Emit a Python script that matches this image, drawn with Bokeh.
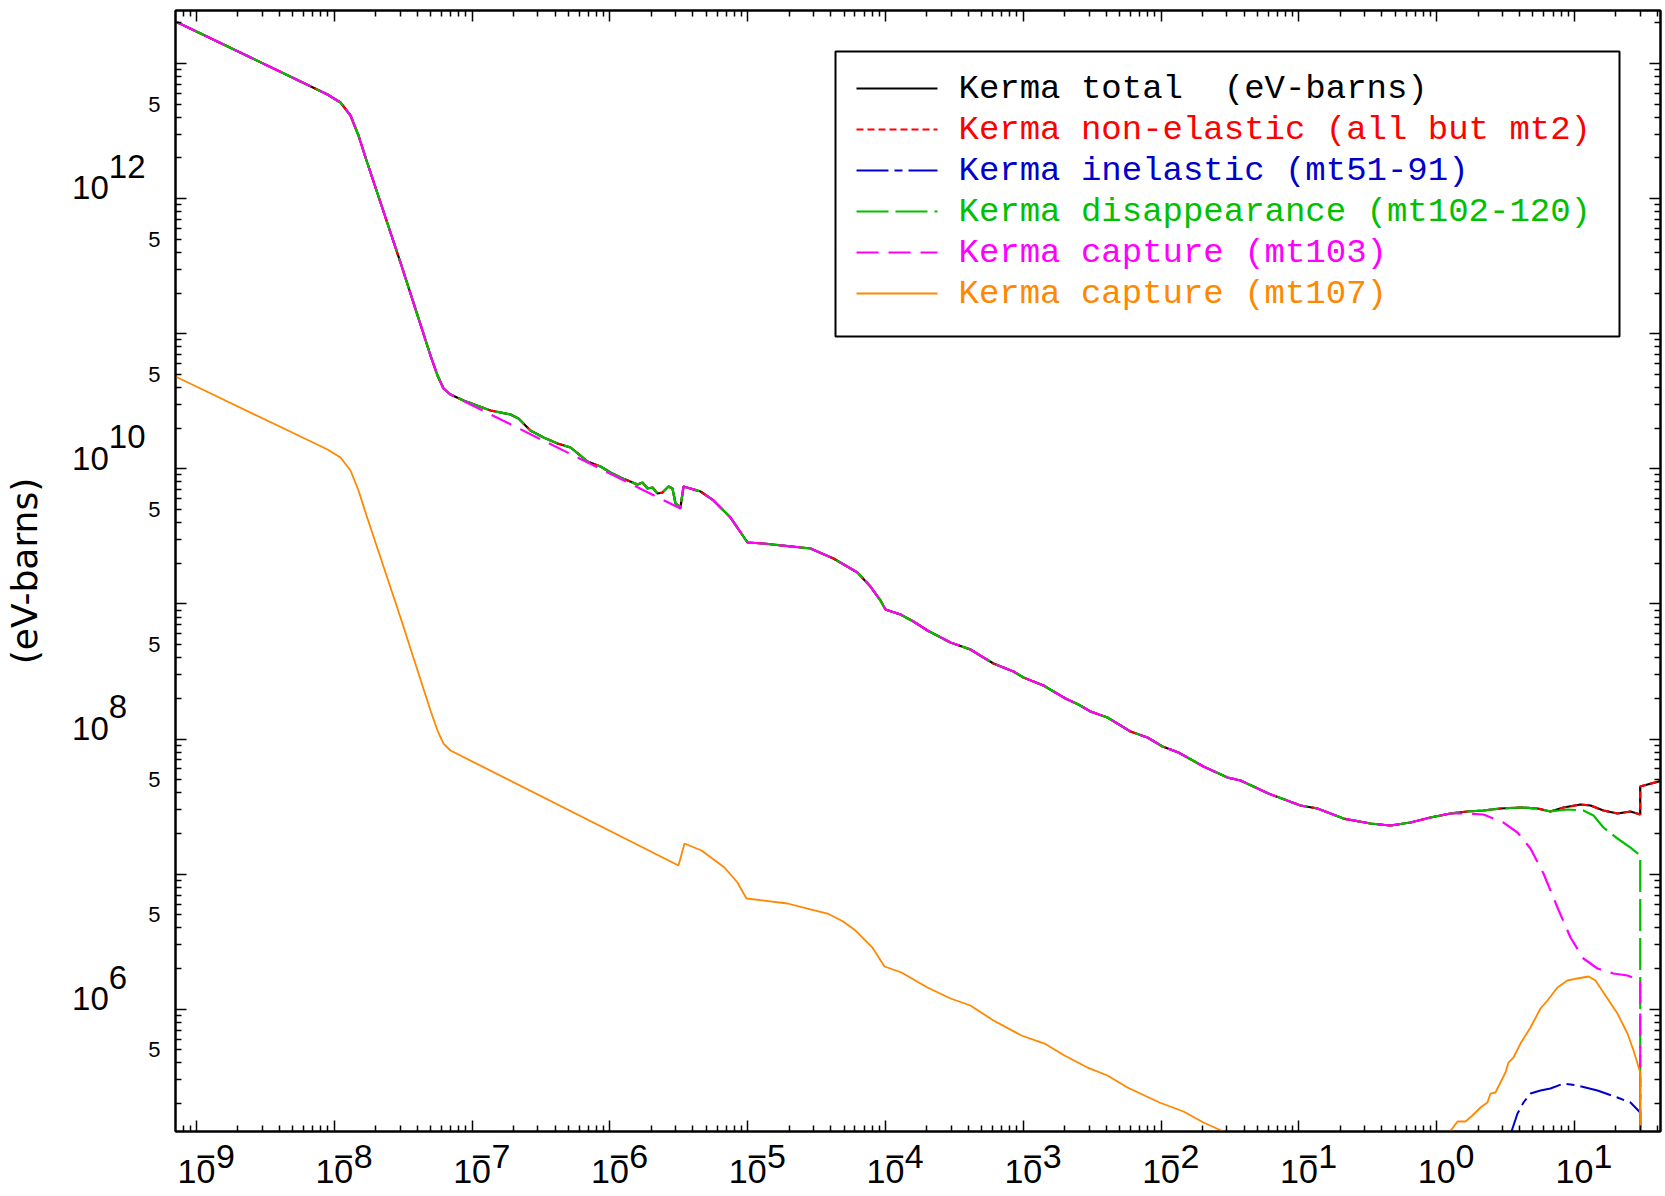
import math
import numpy as np
from bokeh.plotting import figure
from bokeh.models import (Range1d, LogAxis, FixedTicker, CustomJSTickFormatter, LogTickFormatter,
                          Label, BoxAnnotation, Arrow)
from bokeh.embed import file_html
from bokeh.resources import INLINE

# ---------------- data (energy, kerma in eV-barns) ----------------
# low-energy part shared by total / non-elastic / disappearance / capture(mt103)
e_common_lo = [7.04e-10, 5.685e-9, 8.93e-9, 1.109e-8, 1.311e-8, 1.498e-8, 1.713e-8,
               3.022e-8, 4.99e-8, 5.61e-8, 6.20e-8, 6.97e-8]
k_common_lo = [2.05e13, 7.36e12, 5.90e12, 5.144e12, 4.122e12, 2.932e12, 1.914e12,
               3.365e11, 6.895e10, 4.905e10, 3.93e10, 3.546e10]

# resonance region: disappearance / total
e_dis_mid = [8.66e-8, 1.36e-7, 1.90e-7, 2.17e-7, 2.65e-7, 3.30e-7, 4.17e-7, 5.18e-7,
             6.12e-7, 6.88e-7, 8.55e-7, 1.01e-6, 1.194e-6, 1.586e-6, 1.724e-6, 1.875e-6,
             2.038e-6, 2.215e-6, 2.408e-6, 2.662e-6, 2.846e-6, 2.993e-6, 3.253e-6]
k_dis_mid = [3.203e10, 2.701e10, 2.523e10, 2.357e10, 1.921e10, 1.705e10, 1.539e10, 1.438e10,
             1.254e10, 1.132e10, 1.040e10, 9.39e9, 8.62e9, 7.65e9, 7.92e9, 7.15e9,
             7.27e9, 6.56e9, 6.68e9, 7.40e9, 7.15e9, 5.54e9, 5.17e9]

# resonance region: capture mt103
e_cap_mid = [3.253e-6]
k_cap_mid = [5.08e9]

# shared part above the resonances
e_common_hi = [3.421e-6, 4.545e-6, 5.647e-6, 7.50e-6, 9.97e-6, 1.302e-5, 2.855e-5, 4.195e-5,
               6.26e-5, 7.78e-5, 9.20e-5, 1.0e-4, 1.285e-4, 1.596e-4, 2.017e-4, 2.963e-4,
               4.137e-4, 5.142e-4, 6.076e-4, 8.49e-4, 1.003e-3, 1.401e-3, 2.024e-3, 2.515e-3,
               3.074e-3, 4.083e-3, 5.997e-3, 7.965e-3, 1.024e-2, 1.337e-2, 2.031e-2, 3.033e-2,
               3.77e-2, 4.68e-2, 6.02e-2, 0.1027, 0.1364, 0.2107, 0.3308, 0.4622, 0.6454,
               0.9016, 1.259]
k_common_hi = [7.40e9, 6.79e9, 5.83e9, 4.36e9, 2.848e9, 2.80e9, 2.571e9, 2.169e9,
               1.708e9, 1.345e9, 1.060e9, 9.09e8, 8.35e8, 7.41e8, 6.36e8, 5.18e8,
               4.60e8, 4.01e8, 3.62e8, 3.16e8, 2.853e8, 2.489e8, 1.994e8, 1.80e8,
               1.598e8, 1.443e8, 1.136e8, 1.026e8, 8.80e7, 7.95e7, 6.26e7, 5.19e7,
               4.93e7, 4.45e7, 3.95e7, 3.22e7, 3.06e7, 2.578e7, 2.368e7, 2.289e7, 2.409e7,
               2.623e7, 2.81e7]

# high-energy tails
e_tot_tail = [1.673, 2.186, 2.904, 4.056, 5.389, 6.694, 8.322, 11.06, 13.07, 16.23, 20.51,
              25.5, 30.0, 30.0, 45.0]
k_tot_tail = [2.907e7, 2.957e7, 3.06e7, 3.112e7, 3.06e7, 2.907e7, 3.112e7, 3.275e7, 3.22e7,
              2.957e7, 2.81e7, 2.907e7, 2.762e7, 4.45e7, 4.98e7]

e_dis_tail = [1.673, 2.186, 2.904, 4.056, 5.389, 6.694, 8.897, 11.62, 13.74, 16.23, 20.51,
              25.5, 30.0, 30.0]
k_dis_tail = [2.907e7, 2.957e7, 3.06e7, 3.112e7, 3.06e7, 2.907e7, 3.008e7, 2.957e7, 2.715e7,
              2.213e7, 1.834e7, 1.573e7, 1.373e7, 1.0e4]

e_cap_tail = [1.673, 2.186, 3.053, 3.858, 4.795, 5.957, 7.525, 9.354, 11.62, 14.69, 19.19,
              24.25, 30.0, 30.0]
k_cap_tail = [2.81e7, 2.762e7, 2.409e7, 2.032e7, 1.547e7, 1.010e7, 5.66e6, 3.395e6, 2.373e6,
              2.001e6, 1.838e6, 1.776e6, 1.631e6, 1.0e4]

# capture mt107
e_c107_lo = [7.04e-10, 5.685e-9, 8.93e-9, 1.109e-8, 1.311e-8, 1.498e-8, 1.713e-8, 3.022e-8,
             4.99e-8, 5.61e-8, 6.20e-8, 6.97e-8, 3.146e-6, 3.479e-6, 4.62e-6, 6.785e-6,
             8.40e-6, 9.80e-6, 1.945e-5, 2.90e-5, 3.794e-5, 4.90e-5, 6.06e-5, 8.04e-5,
             9.83e-5, 1.306e-4, 2.017e-4,
             2.963e-4, 4.137e-4, 6.076e-4, 9.70e-4, 1.425e-3, 1.991e-3, 2.922e-3, 4.083e-3,
             5.705e-3, 9.74e-3, 1.454e-2, 2.031e-2, 2.836e-2, 3.467e-2]
k_c107_lo = [4.823e10, 1.734e10, 1.390e10, 1.212e10, 9.71e9, 6.91e9, 4.51e9, 7.93e8,
             1.626e8, 1.156e8, 9.26e7, 8.22e7, 1.158e7, 1.685e7, 1.495e7, 1.119e7,
             8.70e6, 6.60e6, 6.06e6, 5.45e6, 5.11e6, 4.48e6, 3.823e6, 2.862e6,
             2.071e6, 1.869e6, 1.447e6,
             1.200e6, 1.065e6, 8.25e5, 6.39e5, 5.57e5, 4.54e5, 3.70e5, 3.23e5,
             2.633e5, 2.039e5, 1.749e5, 1.450e5, 1.244e5, 1.067e5]
e_c107_hi = [1.120, 1.416, 1.618, 1.818, 2.079, 2.337, 2.457, 2.671, 3.002, 3.157, 3.320,
             3.608, 4.056, 4.795, 5.667, 6.37, 7.525, 8.897, 10.51, 12.64, 14.21, 16.23,
             20.51, 24.25, 26.81, 30.0, 30.0]
k_c107_hi = [1.067e5, 1.475e5, 1.475e5, 1.634e5, 1.873e5, 2.039e5, 2.377e5, 2.418e5, 3.07e5,
             3.40e5, 4.03e5, 4.39e5, 5.57e5, 7.32e5, 1.012e6, 1.160e6, 1.447e6, 1.631e6,
             1.688e6, 1.746e6, 1.631e6, 1.329e6, 9.29e5, 6.61e5, 4.95e5, 3.40e5, 1.0e4]

# inelastic mt51-91
e_inel = [3.320, 3.858, 4.265, 4.795, 5.667, 6.694, 8.322, 10.51, 14.69, 20.51, 25.5, 30.0, 30.0]
k_inel = [1.067e5, 1.690e5, 2.039e5, 2.377e5, 2.502e5, 2.588e5, 2.818e5, 2.724e5, 2.502e5,
          2.220e5, 2.039e5, 1.719e5, 1.0e4]

# axis ticks / labels
x_decades = [1e-9, 1e-8, 1e-7, 1e-6, 1e-5, 1e-4, 1e-3, 1e-2, 1e-1, 1e0, 1e1]
x_exponents = ["\u22129", "\u22128", "\u22127", "\u22126", "\u22125", "\u22124", "\u22123",
               "\u22122", "\u22121", "0", "1"]
y_label_decades = [1e6, 1e8, 1e10, 1e12]
y_exponents = ["6", "8", "10", "12"]
y_five = [5e5, 5e6, 5e7, 5e8, 5e9, 5e10, 5e11, 5e12]
y_title = "(eV-barns)"

legend_labels = ["Kerma total \u00a0(eV-barns)", "Kerma non-elastic (all but mt2)",
                 "Kerma inelastic (mt51-91)", "Kerma disappearance (mt102-120)",
                 "Kerma capture (mt103)", "Kerma capture (mt107)"]

# ---------------- series assembly ----------------
e_total = e_common_lo + e_dis_mid + e_common_hi + e_tot_tail
k_total = k_common_lo + k_dis_mid + k_common_hi + k_tot_tail
e_dis = e_common_lo + e_dis_mid + e_common_hi + e_dis_tail
k_dis = k_common_lo + k_dis_mid + k_common_hi + k_dis_tail
e_cap = e_common_lo + e_cap_mid + e_common_hi + e_cap_tail
k_cap = k_common_lo + k_cap_mid + k_common_hi + k_cap_tail
e_c107 = e_c107_lo + [float("nan")] + e_c107_hi
k_c107 = k_c107_lo + [float("nan")] + k_c107_hi

# ---------------- figure ----------------
p = figure(width=1662, height=1196, x_axis_type="log", y_axis_type="log",
           x_range=Range1d(7.04e-10, 42.1), y_range=Range1d(1.244e5, 2.468e13),
           output_backend="svg", toolbar_location=None,
           min_border_left=175, min_border_right=2, min_border_top=10, min_border_bottom=65)
p.grid.visible = False
p.outline_line_color = "black"
p.outline_line_width = 2
p.background_fill_color = "white"
p.border_fill_color = "white"

x_major = [10.0 ** e for e in range(-10, 3)]
x_minor = [m * 10.0 ** e for e in range(-10, 2) for m in range(2, 10)]
y_major = [10.0 ** e for e in range(5, 15)]
y_minor = [m * 10.0 ** e for e in range(5, 14) for m in range(2, 10)]

FIG = "\u2007"   # figure space (digit-wide), used to place exponents beside the base
NB = "\u00a0"


def tick_style(ax):
    ax.major_tick_in = 11
    ax.major_tick_out = 0
    ax.minor_tick_in = 6
    ax.minor_tick_out = 0
    ax.axis_line_width = 2
    ax.major_tick_line_width = 1.5
    ax.minor_tick_line_width = 1.5
    ax.axis_line_color = "black"
    ax.major_tick_line_color = "black"
    ax.minor_tick_line_color = "black"


def no_labels(ax):
    ax.formatter = CustomJSTickFormatter(code="return ''")
    ax.major_label_text_font_size = "1px"
    ax.major_label_standoff = 0


def no_lines(ax):
    ax.major_tick_in = 0
    ax.major_tick_out = 0
    ax.minor_tick_in = 0
    ax.minor_tick_out = 0
    ax.axis_line_alpha = 0
    ax.major_tick_line_alpha = 0
    ax.minor_tick_line_alpha = 0


# bottom axis: "10" with a raised exponent to its right (two-line labels)
xb = p.xaxis[0]
xb.ticker = FixedTicker(ticks=x_decades, minor_ticks=x_minor)
tick_style(xb)
xb.formatter = LogTickFormatter()
xb.major_label_overrides = {
    v: (FIG * 2 if s.startswith("\u2212") else FIG * 3) + s + "\n10"
    for v, s in zip(x_decades, x_exponents)
}
xb.major_label_text_font = "Liberation Sans"
xb.major_label_text_font_size = "34px"
xb.major_label_text_line_height = 0.41
xb.major_label_text_color = "black"
xb.major_label_standoff = 5

# left axis: decade ticks only (innermost)
yl = p.yaxis[0]
yl.ticker = FixedTicker(ticks=y_major, minor_ticks=y_minor)
tick_style(yl)
no_labels(yl)

# left axis: "5" labels
y5 = LogAxis(ticker=FixedTicker(ticks=y_five, minor_ticks=[]))
no_lines(y5)
y5.major_label_overrides = {v: "5" for v in y_five}
y5.major_label_text_font = "Liberation Sans"
y5.major_label_text_font_size = "22px"
y5.major_label_text_color = "black"
y5.major_label_standoff = 15
p.add_layout(y5, "left")

# left axis: 10^n labels and title
y10 = LogAxis(ticker=FixedTicker(ticks=y_label_decades, minor_ticks=[]),
              formatter=LogTickFormatter())
no_lines(y10)
y10.major_label_overrides = {
    v: s + FIG * (2 - len(s)) + "\n10" + FIG * 2 + "\n" + NB + "\n" + NB
    for v, s in zip(y_label_decades, y_exponents)
}
y10.major_label_text_font = "Liberation Sans"
y10.major_label_text_font_size = "33px"
y10.major_label_text_line_height = 0.58
y10.major_label_text_color = "black"
y10.major_label_standoff = 0
y10.axis_label = y_title
y10.axis_label_text_font = "DejaVu Sans"
y10.axis_label_text_font_size = "36px"
y10.axis_label_text_font_style = "normal"
y10.axis_label_text_color = "black"
y10.axis_label_standoff = 24
p.add_layout(y10, "left")

# mirrored tick axes
top_ax = LogAxis(ticker=FixedTicker(ticks=x_major, minor_ticks=x_minor))
tick_style(top_ax)
no_labels(top_ax)
p.add_layout(top_ax, "above")
right_ax = LogAxis(ticker=FixedTicker(ticks=y_major, minor_ticks=y_minor))
tick_style(right_ax)
no_labels(right_ax)
p.add_layout(right_ax, "right")

# ---------------- curves ----------------
C_BLACK, C_RED, C_BLUE, C_GREEN, C_MAG, C_ORANGE = "#000000", "#ff0000", "#0000cc", "#00c000", "#ff00ff", "#ff8800"
p.line(e_total, k_total, line_color=C_BLACK, line_width=2.2)
p.line(e_total, k_total, line_color=C_RED, line_width=2.2, line_dash="7 4")
p.line(e_inel, k_inel, line_color=C_BLUE, line_width=2, line_dash="32 6 8 6")
p.line(e_dis, k_dis, line_color=C_GREEN, line_width=2.2, line_dash="32 7")
p.line(e_cap, k_cap, line_color=C_MAG, line_width=2.2, line_dash="22 10")
p.line(e_c107, k_c107, line_color=C_ORANGE, line_width=1.8)

# ---------------- legend ----------------
p.add_layout(BoxAnnotation(left=660, right=1444, top=1080, bottom=795,
                           left_units="screen", right_units="screen",
                           top_units="screen", bottom_units="screen",
                           fill_color="white", fill_alpha=1.0,
                           line_color="black", line_width=2, line_alpha=1.0))
leg_colors = [C_BLACK, C_RED, C_BLUE, C_GREEN, C_MAG, C_ORANGE]
leg_dash = ["solid", "7 4", "32 6 8 6", "32 7", "22 10", "solid"]
row_y = [1043, 1002, 961, 920, 879, 838]
for lab, col, dash, yy in zip(legend_labels, leg_colors, leg_dash, row_y):
    p.add_layout(Arrow(x_start=681, y_start=yy, x_end=762, y_end=yy,
                       start_units="screen", end_units="screen", start=None, end=None,
                       line_color=col, line_width=2, line_dash=dash))
    p.add_layout(Label(x=783, y=yy, x_units="screen", y_units="screen", text=lab,
                       text_align="left", text_baseline="middle",
                       text_font="Liberation Mono", text_font_size="34px", text_color=col))

open("out.html", "w").write(file_html(p, INLINE))
